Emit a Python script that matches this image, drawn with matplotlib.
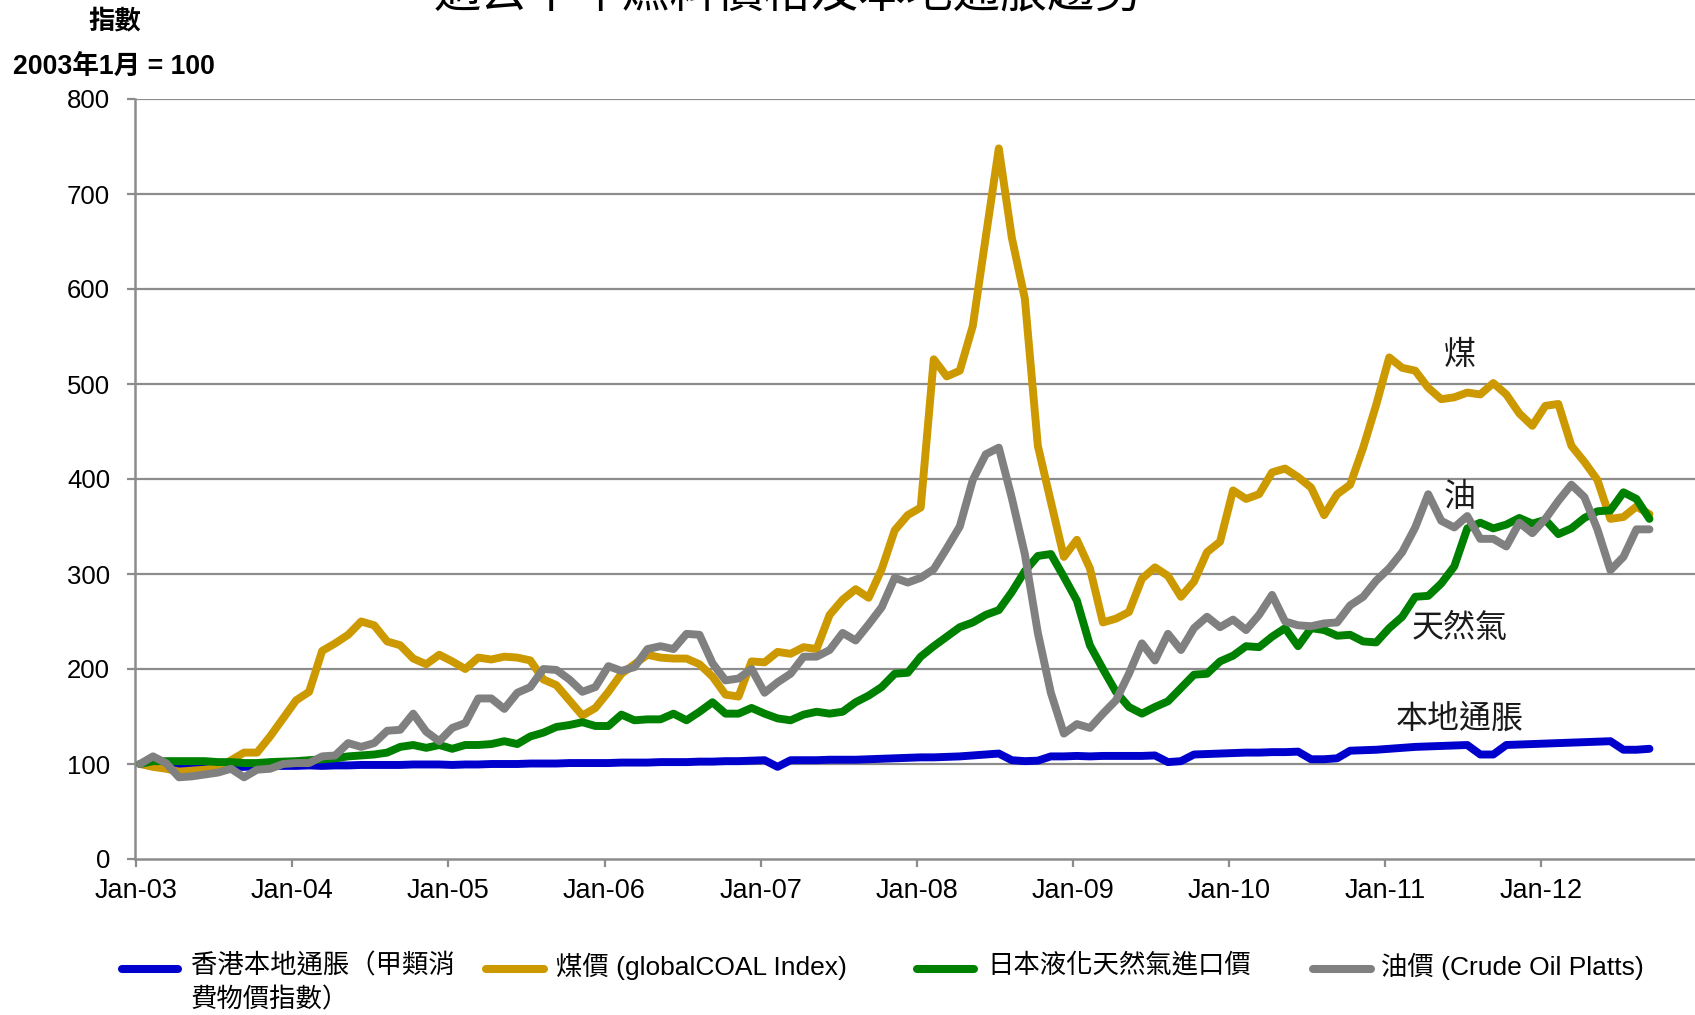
import numpy as np
import matplotlib
matplotlib.use("Agg")
import matplotlib.pyplot as plt
from matplotlib.lines import Line2D

plt.rcParams['font.family'] = ['Liberation Sans', 'Noto Sans CJK TC', 'DejaVu Sans']

# ---------------- data (monthly, Jan-2003 .. Sep-2012, Jan-2003 = 100) ----------------
cpi = [100, 100, 99.5, 99, 98.5, 98, 97.5, 97, 97, 97.5, 98, 98,
       98, 98.5, 98, 98.5, 98.5, 99, 99, 99, 99, 99.5, 99.5, 99.5,
       99, 99.5, 99.5, 100, 100, 100, 100.5, 100.5, 100.5, 101, 101, 101,
       101, 101.5, 101.5, 101.5, 102, 102, 102, 102.5, 102.5, 103, 103, 103.5,
       104, 97, 104, 104, 104, 104.5, 104.5, 104.5, 105, 105.5, 106, 106.5,
       107, 107, 107.5, 108, 109, 110, 111, 104, 103, 103.5, 108, 108,
       108.5, 108, 108.5, 108.5, 108.5, 108.5, 109, 102, 103, 110, 110.5, 111,
       111.5, 112, 112, 112.5, 112.5, 113, 105, 105, 106, 114, 114.5, 115,
       116, 117, 118, 118.5, 119, 119.5, 120, 110, 110, 120, 120.5, 121,
       121.5, 122, 122.5, 123, 123.5, 124, 115, 115, 116]

coal = [100, 97, 95, 92, 93, 94, 96, 104, 112, 112, 129, 148,
        167, 176, 219, 227, 236, 250, 246, 229, 225, 211, 205, 215,
        208, 200, 212, 210, 213, 212, 209, 189, 183, 167, 151, 159,
        176, 195, 205, 215, 212, 211, 211, 205, 192, 173, 171, 208,
        207, 218, 216, 223, 221, 257, 273, 284, 275, 305, 346, 362,
        370, 526, 508, 514, 561, 655, 748, 654, 590, 435, 376, 318,
        336, 306, 249, 253, 260, 295, 307, 298, 276, 292, 323, 334,
        388, 379, 384, 407, 411, 402, 391, 362, 384, 394, 433, 478,
        528, 517, 514, 496, 484, 486, 491, 489, 501, 489, 469, 456,
        477, 479, 435, 418, 399, 358, 360, 371, 363]

lng = [100, 103, 103, 103, 103, 103, 102, 102, 101, 101, 102, 102.5,
       103, 104, 105, 106, 108, 109, 110, 112, 118, 120, 117, 120,
       116, 120, 120, 121, 124, 121, 129, 133, 139, 141, 144, 140,
       140, 152, 146, 147, 147, 153, 146, 155, 165, 153, 153, 159,
       153, 148, 146, 152, 155, 153, 155, 165, 172, 181, 195, 196,
       213, 224, 234, 244, 249, 257, 262, 281, 303, 319, 321, 297,
       272, 225, 200, 176, 160, 153, 160, 166, 180, 194, 195, 208,
       214, 224, 223, 234, 243, 224, 243, 241, 235, 236, 229, 228,
       243, 255, 276, 277, 290, 308, 348, 354, 348, 352, 359, 353,
       357, 342, 348, 359, 366, 367, 386, 379, 358]

oil = [100, 108, 101, 86, 87, 89, 91, 95, 86, 94, 95, 100,
       101, 101, 108, 109, 122, 118, 122, 135, 136, 153, 134, 124,
       138, 143, 169, 169, 158, 175, 181, 200, 199, 189, 176, 181,
       203, 198, 202, 221, 224, 221, 237, 236, 206, 188, 190, 200,
       175, 186, 195, 213, 213, 220, 238, 230, 247, 265, 296, 291,
       296, 305, 327, 350, 399, 426, 433, 380, 321, 238, 175, 132,
       142, 138, 153, 167, 195, 227, 209, 237, 220, 243, 255, 244,
       252, 241, 257, 278, 250, 246, 245, 248, 249, 267, 276, 293,
       306, 323, 349, 384, 356, 349, 361, 337, 337, 329, 354, 343,
       358, 377, 394, 381, 347, 304, 318, 347, 347]

tick_labels = ['Jan-03', 'Jan-04', 'Jan-05', 'Jan-06', 'Jan-07',
               'Jan-08', 'Jan-09', 'Jan-10', 'Jan-11', 'Jan-12']
y_ticks = [0, 100, 200, 300, 400, 500, 600, 700, 800]

series_labels = ['香港本地通脹（甲類消\n費物價指數）', '煤價 (globalCOAL Index)',
                 '日本液化天然氣進口價', '油價 (Crude Oil Platts)']
colors = ['#0000CC', '#CC9900', '#008000', '#808080']

# ---------------- figure ----------------
W, H = 1695, 1015
fig = plt.figure(figsize=(W / 100, H / 100), dpi=100)
ax = fig.add_axes([135 / W, 1 - 859 / H, (W - 135) / W, (859 - 99) / H])

xs = np.arange(len(coal))
grid_c = '#8C8C8C'
for y in y_ticks[1:]:
    ax.axhline(y, color=grid_c, lw=1.6, zorder=1)

for data, c in zip([cpi, coal, lng, oil], colors):
    ax.plot(xs, data, color=c, lw=5.7, solid_joinstyle='round',
            solid_capstyle='round', zorder=3)

ax.set_xlim(-0.38, 119.5)
ax.set_ylim(0, 800)
ax.set_yticks(y_ticks)
ax.set_yticklabels([str(v) for v in y_ticks], fontsize=18.5)
ax.set_xticks([12 * k - 0.3 for k in range(len(tick_labels))])
ax.set_xticklabels(tick_labels, fontsize=19.5)
ax.tick_params(axis='both', direction='out', length=6, width=1.6, color=grid_c)
ax.tick_params(axis='y', pad=12)
ax.tick_params(axis='x', pad=8)

for s in ['top', 'right']:
    ax.spines[s].set_visible(False)
for s in ['left', 'bottom']:
    ax.spines[s].set_color(grid_c)
    ax.spines[s].set_linewidth(1.8)

# in-chart labels
ann_kw = dict(fontsize=23, color='#1a1a1a', ha='center', va='center',
              family=['Noto Sans CJK TC', 'DejaVu Sans'], zorder=5)
ax.text(101.4, 531, '煤', **ann_kw)
ax.text(101.4, 381, '油', **ann_kw)
ax.text(101.4, 243, '天然氣', **ann_kw)
ax.text(101.4, 148, '本地通脹', **ann_kw)

# header texts
fig.text(115 / W, 1 - 21 / H, '指數', fontsize=19, fontweight='bold',
         ha='center', va='center')
fig.text(13 / W, 1 - 67 / H, '2003年1月 = 100', fontsize=19.2, fontweight='bold',
         ha='left', va='center')
fig.text(788 / W, 1 - 6 / H, '過去十年燃料價格及本地通脹趨勢', fontsize=34,
         ha='center', va='baseline', family=['Noto Sans CJK TC', 'DejaVu Sans'])

# legend (manual, to match layout)
handle_x = [(122, 178), (486, 544), (917, 974), (1313, 1371)]
text_x = [191, 556, 987, 1381]
ly = 969
for (x1, x2), tx, c, lab in zip(handle_x, text_x, colors, series_labels):
    fig.add_artist(Line2D([x1 / W, x2 / W], [1 - ly / H, 1 - ly / H],
                          transform=fig.transFigure, color=c, lw=5.8,
                          solid_capstyle='round'))
    fig.text(tx / W, 1 - (ly - 16) / H, lab, fontsize=19, ha='left', va='top',
             linespacing=1.45)

fig.savefig('out.png', dpi=100)
